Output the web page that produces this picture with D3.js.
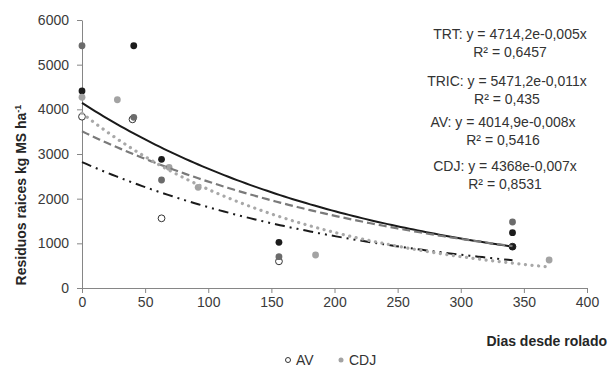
<!DOCTYPE html>
<html>
<head>
<meta charset="utf-8">
<script src="https://cdn.jsdelivr.net/npm/d3@7"></script>
<style>
  body { margin: 0; background: #fff; }
  text { font-family: "Liberation Sans", Arial, sans-serif; }
</style>
</head>
<body>
<svg id="chart"></svg>
<script>
// values (days since rolling, kg MS/ha)
const trtDays = [0, 41, 63, 156, 341, 341];
const trtValues = [4410, 5424, 2880, 1023, 1238, 925];
const tricDays = [0, 41, 63, 156, 341];
const tricValues = [5424, 3821, 2418, 701, 1478];
const avDays = [0, 40, 63, 156, 341];
const avValues = [3835, 3776, 1560, 597, 925];
const cdjDays = [0, 28, 69, 92, 185, 370];
const cdjValues = [4270, 4215, 2702, 2254, 739, 627];

const seriesNames = ["TRT", "TRIC", "AV", "CDJ"];
const equationLines = [
    ["TRT: y = 4714,2e-0,005x", "R² = 0,6457"],
    ["TRIC: y = 5471,2e-0,011x", "R² = 0,435"],
    ["AV: y = 4014,9e-0,008x", "R² = 0,5416"],
    ["CDJ: y = 4368e-0,007x", "R² = 0,8531"]
];
const xTicks = [0, 50, 100, 150, 200, 250, 300, 350, 400];
const yTicks = [0, 1000, 2000, 3000, 4000, 5000, 6000];

class ScatterChart {

    constructor( config, data ) {
        this.config = {
            parent: config.parent,
            width: config.width || 611,
            height: config.height || 367,
            margin: config.margin || {top:20, right:24, bottom:79, left:82}
        }
        this.data = data;
        this.init();
    }

    init() {
        let self = this;

        self.svg = d3.select( self.config.parent )
            .attr('width', self.config.width)
            .attr('height', self.config.height);

        self.inner_width = self.config.width - self.config.margin.left - self.config.margin.right;
        self.inner_height = self.config.height - self.config.margin.top - self.config.margin.bottom;

        self.chart = self.svg.append('g')
            .attr('transform', `translate(${self.config.margin.left}, ${self.config.margin.top})`);

        self.xscale = d3.scaleLinear()
            .domain([0, 400])
            .range([0, self.inner_width]);

        self.yscale = d3.scaleLinear()
            .domain([0, 6000])
            .range([self.inner_height, 0]);

        self.xaxis = d3.axisBottom( self.xscale )
            .tickValues(xTicks)
            .tickSize(5)
            .tickSizeOuter(0)
            .tickPadding(4);

        self.yaxis = d3.axisLeft( self.yscale )
            .tickValues(yTicks)
            .tickSize(5)
            .tickSizeOuter(0)
            .tickPadding(8)
            .tickFormat(d3.format('d'));

        self.xaxis_group = self.chart.append('g')
            .attr('transform', `translate(0, ${self.inner_height})`);
        self.yaxis_group = self.chart.append('g');
    }

    // least squares on ln(y), like the spreadsheet exponential trendline
    fit(d) {
        const xm = d3.mean(d.days);
        const lm = d3.mean(d.values, v => Math.log(v));
        let sxy = 0, sxx = 0;
        d.days.forEach((x, i) => {
            sxy += (x - xm) * (Math.log(d.values[i]) - lm);
            sxx += (x - xm) * (x - xm);
        });
        const b = sxy / sxx;
        const a = Math.exp(lm - b * xm);
        const xmax = d3.max(d.days);
        return d3.range(0, 101).map(i => {
            const x = xmax * i / 100;
            return [x, a * Math.exp(b * x)];
        });
    }

    render() {
        let self = this;

        self.xaxis_group.call( self.xaxis );
        self.yaxis_group.call( self.yaxis );
        self.chart.selectAll('.domain, .tick line')
            .attr('stroke', '#868686');
        self.chart.selectAll('.tick text')
            .attr('font-size', '14px')
            .attr('fill', '#3a3a3a');

        const line = d3.line()
            .x(d => self.xscale(d[0]))
            .y(d => self.yscale(d[1]));

        // points, open AV circles underneath the filled ones
        const order = [2, 0, 1, 3];
        order.map(k => self.data[k]).forEach(d => {
            self.chart.append('g')
                .selectAll('circle')
                .data(d.days.map((x, i) => [x, d.values[i]]))
                .join('circle')
                .attr('cx', p => self.xscale(p[0]))
                .attr('cy', p => self.yscale(p[1]))
                .attr('r', 3.4)
                .attr('fill', d.fill)
                .attr('stroke', d.stroke)
                .attr('stroke-width', d.stroke == 'none' ? 0 : 1);
        });

        // trend lines
        self.data.forEach(d => {
            self.chart.append('path')
                .datum(self.fit(d))
                .attr('d', line)
                .attr('fill', 'none')
                .attr('stroke', d.lineColor)
                .attr('stroke-width', d.lineWidth)
                .attr('stroke-dasharray', d.dash)
                .attr('stroke-linecap', d.cap);
        });

        // equations
        const eqY = [34, 81, 122, 166];
        const eqX = [510, 507, 503, 505];
        equationLines.forEach((lines, i) => {
            lines.forEach((t, j) => {
                self.svg.append('text')
                    .attr('x', eqX[i])
                    .attr('y', eqY[i] + j * 18 + 5)
                    .attr('text-anchor', 'middle')
                    .attr('font-size', '14px')
                    .attr('fill', '#333')
                    .text(t);
            });
        });

        // axis titles
        self.svg.append('text')
            .attr('x', 607)
            .attr('y', 346)
            .attr('text-anchor', 'end')
            .attr('font-size', '14px')
            .attr('font-weight', 'bold')
            .attr('fill', '#262626')
            .text('Dias desde rolado');

        const ytitle = self.svg.append('text')
            .attr('transform', 'translate(26, 195) rotate(-90)')
            .attr('text-anchor', 'middle')
            .attr('font-size', '14px')
            .attr('font-weight', 'bold')
            .attr('fill', '#262626');
        ytitle.append('tspan').text('Residuos raices kg MS ha');
        ytitle.append('tspan')
            .attr('font-size', '9px')
            .attr('dy', -5)
            .text('-1');

        // legend (only AV and CDJ shown)
        const legend = self.data.filter(d => d.name == 'AV' || d.name == 'CDJ');
        legend.forEach((d, i) => {
            const lx = 288 + i * 53;
            self.svg.append('circle')
                .attr('cx', lx)
                .attr('cy', 360)
                .attr('r', 2.5)
                .attr('fill', d.fill)
                .attr('stroke', d.stroke)
                .attr('stroke-width', d.stroke == 'none' ? 0 : 1);
            self.svg.append('text')
                .attr('x', lx + 8)
                .attr('y', 365)
                .attr('font-size', '14px')
                .attr('fill', '#333')
                .text(d.name);
        });
    }
}

const seriesData = [
    { name: seriesNames[0], days: trtDays, values: trtValues, fill: '#1c1c1c', stroke: 'none',
      lineColor: '#1a1a1a', lineWidth: 2, dash: null, cap: 'butt' },
    { name: seriesNames[1], days: tricDays, values: tricValues, fill: '#6b6b6b', stroke: 'none',
      lineColor: '#7a7a7a', lineWidth: 2.2, dash: '8,4', cap: 'butt' },
    { name: seriesNames[2], days: avDays, values: avValues, fill: '#fff', stroke: '#333',
      lineColor: '#1a1a1a', lineWidth: 2, dash: '10,5,2,5,2,5', cap: 'butt' },
    { name: seriesNames[3], days: cdjDays, values: cdjValues, fill: '#a3a3a3', stroke: 'none',
      lineColor: '#a8a8a8', lineWidth: 3.2, dash: '0.1,6.5', cap: 'round' }
];

let chart = new ScatterChart({ parent: '#chart' }, seriesData);
chart.render();
</script>
</body>
</html>
